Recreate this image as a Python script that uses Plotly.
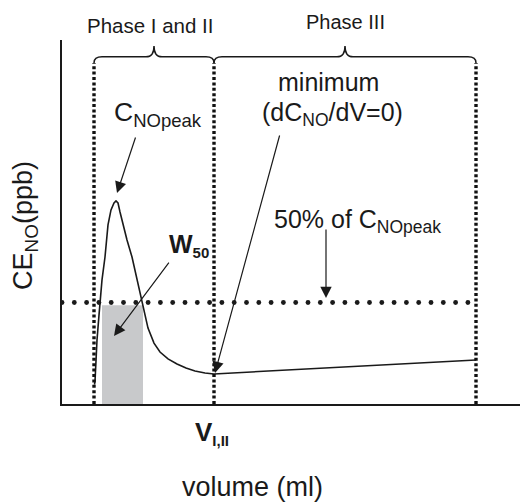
import numpy as np
import plotly.graph_objects as go

# ---- data (arbitrary units) ----
volume = [32.5, 33, 34, 35, 37, 38, 40, 43, 46, 49, 52, 54, 56, 58, 61, 65, 70, 75, 80,
          86, 92, 98, 106, 115, 124, 133, 143, 152]
ce_no = [9.5, 11.3, 21.2, 31.5, 43.8, 49.8, 61.1, 72.4, 88.2, 95.6, 99.0, 100, 99.0, 94.6,
         88.2, 80.8, 72.4, 61.1, 49.8, 37.4, 30.0, 25.6, 22.2, 19.7, 17.7, 16.3, 15.3, 14.8]
phase3_volume = [152, 414]
phase3_ce = [14.8, 21.7]
phase_bounds = [32, 152, 414]
peak = 100
w50_range = [40, 81]
half_line_end = 406
x_max = 458
y_max = 179.3

FONT = "Liberation Sans, Arial, sans-serif"
INK = "#1a1a1a"

fig = go.Figure()

# 50% of peak dotted line (round dots)
half = 0.5 * peak
dots_x = np.arange(0, half_line_end + 0.1, 12.3)
fig.add_trace(go.Scatter(x=dots_x, y=[half] * len(dots_x), mode="markers",
                         marker=dict(size=4.8, color=INK), hoverinfo="skip"))

# NO curve
fig.add_trace(go.Scatter(x=volume, y=ce_no, mode="lines",
                         line=dict(color=INK, width=1.6), hoverinfo="skip"))
fig.add_trace(go.Scatter(x=phase3_volume, y=phase3_ce, mode="lines",
                         line=dict(color=INK, width=1.6), hoverinfo="skip"))

shapes = []
# W50 gray rectangle
shapes.append(dict(type="rect", xref="x", yref="y", x0=w50_range[0], x1=w50_range[1],
                   y0=0, y1=half - 1.4, fillcolor="#c8c9cb", line=dict(width=0),
                   layer="below"))
# vertical dotted phase boundaries
yb, yh, yt = 168, 171, 176.4
for xb in phase_bounds:
    shapes.append(dict(type="line", xref="x", yref="y", x0=xb, x1=xb, y0=0, y1=yb,
                       line=dict(color="#111111", width=3.4, dash="3px,2.4px")))


def brace_path(x0, x1, d=8):
    xm = (x0 + x1) / 2
    return (f"M{x0},{yb} Q{x0},{yh} {x0 + d},{yh} L{xm - d},{yh} "
            f"Q{xm},{yh} {xm},{yt} Q{xm},{yh} {xm + d},{yh} "
            f"L{x1 - d},{yh} Q{x1},{yh} {x1},{yb}")


for a, b in zip(phase_bounds[:-1], phase_bounds[1:]):
    shapes.append(dict(type="path", xref="x", yref="y", path=brace_path(a, b),
                       line=dict(color=INK, width=1.5)))

ann = []


def arrow(x, y, ax, ay):
    ann.append(dict(x=x, y=y, ax=ax, ay=ay, xref="x", yref="y", axref="x", ayref="y",
                    text="", showarrow=True, arrowhead=2, arrowsize=1.9,
                    arrowwidth=1.2, arrowcolor=INK))


arrow(55, 103.9, 74, 132)      # C_NOpeak
arrow(52, 33.5, 108, 70.4)     # W50
arrow(153, 15.3, 218, 133)     # minimum
arrow(264, 52.2, 264, 86.7)    # 50%


def text(x, y, s, size, xanchor="center", yanchor="middle", angle=0, paper=False):
    if paper:
        x, y, xr, yr = x / x_max, y / y_max, "paper", "paper"
    else:
        xr, yr = "x", "y"
    ann.append(dict(x=x, y=y, xref=xr, yref=yr, text=s, showarrow=False,
                    xanchor=xanchor, yanchor=yanchor, textangle=angle,
                    font=dict(family=FONT, size=size, color=INK)))


text(88, 186.5, "Phase I and II", 20.5, paper=True)
text(283, 188, "Phase III", 20, paper=True)
text(50, 143, "C<sub>NOpeak</sub>", 26.5, xanchor="left")
text(105, 78.3, "<b>W<sub><span style='font-size:15px'>50</span></sub></b>", 25, xanchor="left")
text(266.5, 158.7, "minimum", 25)
text(270.5, 143, "(dC<sub>NO</sub>/dV=0)", 25)
text(210, 90, "50% of C<sub>NOpeak</sub>", 25, xanchor="left")
text(131, -14.5, "<b>V<sub><span style='font-size:15px'>I,II</span></sub></b>", 26,
     xanchor="left", paper=True)
text(190.5, -41.1, "volume (ml)", 27, paper=True)
text(-37, 87.7, "CE<sub>NO</sub>(ppb)", 27, angle=-90, paper=True)

fig.update_layout(
    width=520, height=502,
    margin=dict(l=62, r=0, t=40, b=98),
    paper_bgcolor="white", plot_bgcolor="white",
    showlegend=False,
    shapes=shapes, annotations=ann,
    xaxis=dict(range=[0, x_max], showline=True, linewidth=2, linecolor=INK,
               showgrid=False, zeroline=False, showticklabels=False, ticks=""),
    yaxis=dict(range=[0, y_max], showline=True, linewidth=2, linecolor=INK,
               showgrid=False, zeroline=False, showticklabels=False, ticks=""),
)

fig.write_html("out.html")
